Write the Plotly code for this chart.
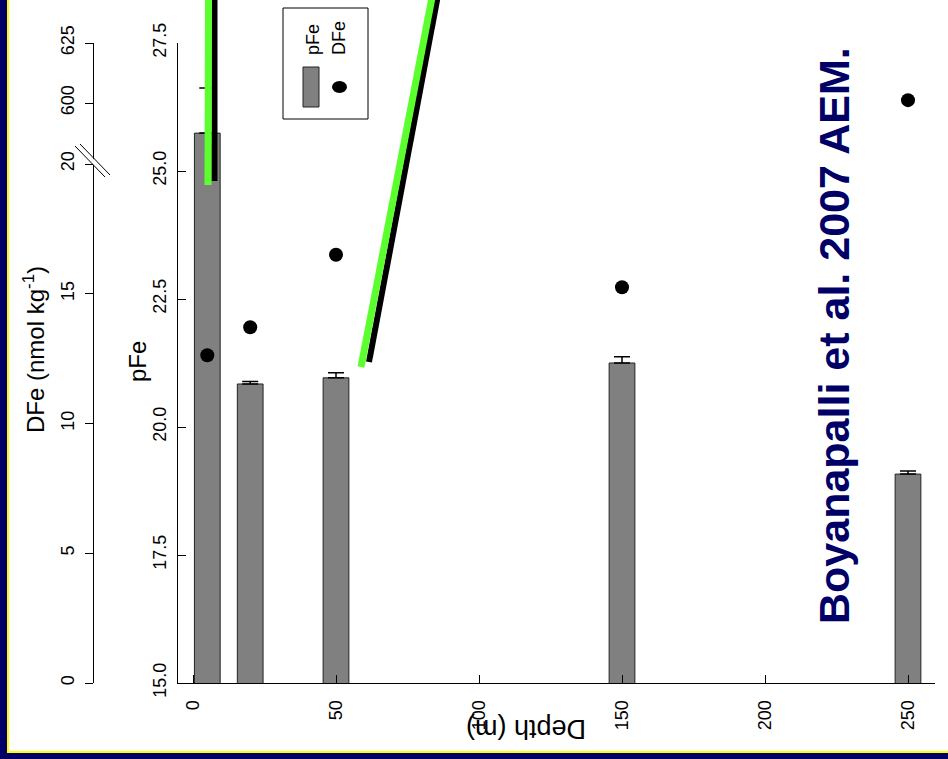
import plotly.graph_objects as go

# Sampling depths (m) and measurements
depth = [5, 20, 50, 150, 250]
pfe = [25.74, 20.84, 20.96, 21.25, 19.08]
pfe_err = [0.88, 0.05, 0.10, 0.12, 0.06]
dfe = [12.63, 13.71, 16.50, 15.25, 601.2]

depth_ticks = [0, 50, 100, 150, 200, 250]
pfe_ticks = [15.0, 17.5, 20.0, 22.5, 25.0, 27.5]
dfe_low_ticks = [0, 5, 10, 15, 20]
dfe_high_ticks = [600, 625]
dfe_break = 20  # lower segment of the broken DFe axis ends here

W, H = 948, 759
FONT = "Liberation Sans, Arial, sans-serif"
NAVY = "#000066"
GREEN = "#5CFF2E"


def px(x):
    return x / W


def py(y):
    return 1 - y / H


# split DFe into the two axis segments
low_d = [d for d, v in zip(depth, dfe) if v <= dfe_break]
low_v = [v for v in dfe if v <= dfe_break]
high_d = [d for d, v in zip(depth, dfe) if v > dfe_break]
high_v = [v for v in dfe if v > dfe_break]

fig = go.Figure()

fig.add_trace(go.Bar(
    x=depth, y=pfe, width=9,
    marker=dict(color="#808080", line=dict(color="#222222", width=1)),
    error_y=dict(type="data", symmetric=False, array=pfe_err,
                 arrayminus=[0] * len(pfe_err), color="black",
                 thickness=1.5, width=8),
    xaxis="x", yaxis="y", showlegend=False,
))

fig.add_trace(go.Scatter(
    x=low_d, y=low_v, mode="markers",
    marker=dict(color="black", size=14, symbol="circle"),
    xaxis="x", yaxis="y2", showlegend=False, cliponaxis=False,
))
fig.add_trace(go.Scatter(
    x=high_d, y=high_v, mode="markers",
    marker=dict(color="black", size=14, symbol="circle"),
    xaxis="x", yaxis="y3", showlegend=False, cliponaxis=False,
))

tickfont = dict(family=FONT, size=18, color="black")
common = dict(tickcolor="black", tickangle=-90, tickfont=tickfont,
              showline=True, linecolor="black", linewidth=1,
              showgrid=False, zeroline=False, automargin=False)

fig.update_layout(
    width=W, height=H,
    margin=dict(l=0, r=0, t=0, b=0, autoexpand=False),
    paper_bgcolor=NAVY,
    plot_bgcolor="rgba(0,0,0,0)",
    showlegend=False,
    xaxis=dict(
        domain=[px(178), px(935)],
        range=[(178 - 193) / 2.86, (935 - 193) / 2.86],
        tickvals=depth_ticks, ticktext=[str(t) for t in depth_ticks],
        ticks="inside", ticklen=8, ticklabelstandoff=9, anchor="y",
        **common,
    ),
    yaxis=dict(
        domain=[py(683), py(43)],
        range=[15, 27.5],
        tickvals=pfe_ticks, ticktext=[f"{t:.1f}" for t in pfe_ticks],
        ticks="inside", ticklen=8, ticklabelstandoff=4, anchor="x",
        **common,
    ),
    yaxis2=dict(
        domain=[py(683), py(164)],
        range=[0, dfe_break],
        tickvals=dfe_low_ticks, ticktext=[str(t) for t in dfe_low_ticks],
        ticks="outside", ticklen=8, ticklabelstandoff=4,
        anchor="free", position=px(93),
        **common,
    ),
    yaxis3=dict(
        domain=[py(164), py(43)],
        range=[574.6, 625],
        tickvals=dfe_high_ticks, ticktext=[str(t) for t in dfe_high_ticks],
        ticks="outside", ticklen=8, ticklabelstandoff=4,
        anchor="free", position=px(93),
        **common,
    ),
)

shapes = [
    # slide panel with yellow rim
    dict(type="rect", xref="paper", yref="paper", layer="below",
         x0=px(7), x1=px(960), y0=py(753), y1=py(-10),
         fillcolor="#FFFF00", line=dict(width=0)),
    dict(type="rect", xref="paper", yref="paper", layer="below",
         x0=px(9), x1=px(960), y0=py(751), y1=py(-10),
         fillcolor="white", line=dict(width=0)),
    # axis break on the DFe axis
    dict(type="path", xref="paper", yref="paper", layer="above",
         path=f"M {px(77)} {py(148)} L {px(80)} {py(145)} L {px(110)} {py(176)} L {px(107)} {py(179)} Z",
         fillcolor="white", line=dict(width=0)),
    dict(type="line", xref="paper", yref="paper", layer="above",
         x0=px(75), y0=py(146), x1=px(105), y1=py(177),
         line=dict(color="black", width=1)),
    dict(type="line", xref="paper", yref="paper", layer="above",
         x0=px(80), y0=py(144), x1=px(110), y1=py(175),
         line=dict(color="black", width=1)),
    # pointer strokes
    dict(type="line", xref="paper", yref="paper", layer="above",
         x0=px(214.5), y0=py(-5), x1=px(214.5), y1=py(181),
         line=dict(color="black", width=6)),
    dict(type="line", xref="paper", yref="paper", layer="above",
         x0=px(208.5), y0=py(-5), x1=px(208), y1=py(185),
         line=dict(color=GREEN, width=7)),
    dict(type="line", xref="paper", yref="paper", layer="above",
         x0=px(438), y0=py(-5), x1=px(369), y1=py(362),
         line=dict(color="black", width=6)),
    dict(type="line", xref="paper", yref="paper", layer="above",
         x0=px(432.5), y0=py(-5), x1=px(361), y1=py(367),
         line=dict(color=GREEN, width=7)),
    # key box
    dict(type="rect", xref="paper", yref="paper", layer="above",
         x0=px(283), x1=px(368), y0=py(119), y1=py(8),
         fillcolor="white", line=dict(color="black", width=1)),
    dict(type="rect", xref="paper", yref="paper", layer="above",
         x0=px(303), x1=px(319), y0=py(107), y1=py(67),
         fillcolor="#808080", line=dict(color="#222222", width=1)),
    dict(type="circle", xref="paper", yref="paper", layer="above",
         x0=px(332), x1=px(347), y0=py(93), y1=py(81),
         fillcolor="black", line=dict(color="black", width=0)),
]
fig.update_layout(shapes=shapes)

annotations = [
    dict(text="DFe (nmol kg<sup>-1</sup>)", x=px(34), y=py(350), textangle=-90,
         font=dict(family=FONT, size=24, color="black")),
    dict(text="pFe", x=px(137), y=py(362), textangle=-90,
         font=dict(family=FONT, size=24, color="black")),
    dict(text="Depth (m)", x=px(526), y=py(729), textangle=180,
         font=dict(family=FONT, size=27, color="black")),
    dict(text="pFe", x=px(313), y=py(40), textangle=-90,
         font=dict(family=FONT, size=18, color="black")),
    dict(text="DFe", x=px(339), y=py(38), textangle=-90,
         font=dict(family=FONT, size=18, color="black")),
    dict(text="<b>Boyanapalli et al. 2007 AEM.</b>", x=px(834), y=py(336),
         textangle=-90, font=dict(family=FONT, size=43, color=NAVY)),
]
for a in annotations:
    a.update(xref="paper", yref="paper", xanchor="center", yanchor="middle",
             showarrow=False)
fig.update_layout(annotations=annotations)

fig.write_html("out.html")
